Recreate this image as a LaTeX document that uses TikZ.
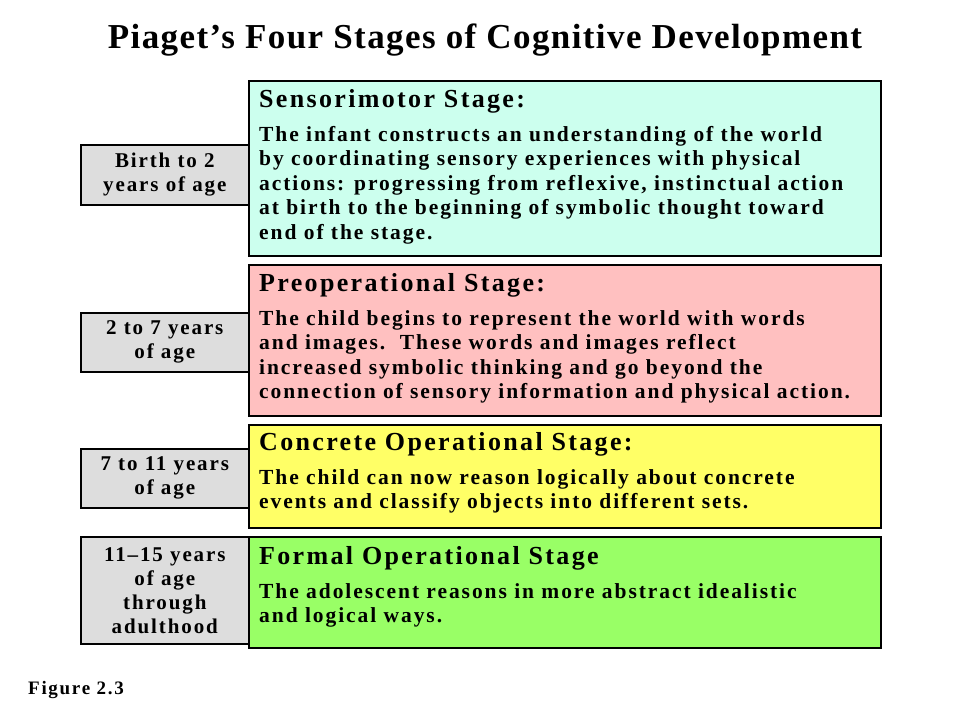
\documentclass[tikz,border=0pt]{standalone}
\usepackage{fontspec}
\setmainfont{Liberation Serif}
\newfontfamily\widefont[LetterSpace=9]{Liberation Serif}
\newfontfamily\midfont[LetterSpace=4]{Liberation Serif}
\definecolor{sensor}{HTML}{CCFFEE}
\definecolor{preop}{HTML}{FFC0C0}
\definecolor{concrete}{HTML}{FFFF66}
\definecolor{formal}{HTML}{99FF66}
\definecolor{agegray}{HTML}{DDDDDD}
\tikzset{
  agebox/.style={draw=black,line width=1.6pt,fill=agegray,anchor=north west,inner sep=0pt,
    minimum width=168pt,align=center,font=\widefont\fontsize{21}{24}\selectfont\bfseries},
  stagebox/.style={draw=black,line width=1.6pt,anchor=north west,inner sep=0pt,minimum width=632pt},
  stagetext/.style={anchor=north west,align=left,inner sep=0pt,font=\widefont\fontsize{21.5}{24.5}\selectfont\bfseries},
  stagehead/.style={anchor=north west,inner sep=0pt,font=\widefont\fontsize{26}{28}\selectfont\bfseries}
}
\begin{document}
\begin{tikzpicture}[x=1pt,y=-1pt]
\useasboundingbox (0,0) rectangle (960,720);
\node (title) at (485,40) {\midfont\fontsize{35}{38}\selectfont\bfseries Piaget’s Four Stages of Cognitive Development};
% ages
\node[agebox,minimum height=60pt] (a1) at (80,144) {Birth to 2\\years of age};
\node[agebox,minimum height=59pt] (a2) at (80,312) {2 to 7 years\\of age};
\node[agebox,minimum height=59pt] (a3) at (80,448) {7 to 11 years\\of age};
\node[agebox,minimum height=107pt] (a4) at (80,536) {11–15 years\\of age\\through\\adulthood};
% stages
\node[stagebox,fill=sensor,minimum height=175pt] (s1) at (248,80) {};
\node[stagebox,fill=preop,minimum height=151pt] (s2) at (248,264) {};
\node[stagebox,fill=concrete,minimum height=103pt] (s3) at (248,424) {};
\node[stagebox,fill=formal,minimum height=111pt] (s4) at (248,536) {};
\node[stagehead] (h1) at ([shift={(11,9)}]s1.north west) {Sensorimotor Stage:};
\node[stagetext] (t1) at ([shift={(11,46)}]s1.north west) {The infant constructs an understanding of the world\\by coordinating sensory experiences with physical\\actions: progressing from reflexive, instinctual action\\at birth to the beginning of symbolic thought toward\\end of the stage.};
\node[stagehead] (h2) at ([shift={(11,9)}]s2.north west) {Preoperational Stage:};
\node[stagetext] (t2) at ([shift={(11,46)}]s2.north west) {The child begins to represent the world with words\\and images.\ \ These words and images reflect\\increased symbolic thinking and go beyond the\\connection of sensory information and physical action.};
\node[stagehead] (h3) at ([shift={(11,8)}]s3.north west) {Concrete Operational Stage:};
\node[stagetext] (t3) at ([shift={(11,45)}]s3.north west) {The child can now reason logically about concrete\\events and classify objects into different sets.};
\node[stagehead] (h4) at ([shift={(11,10)}]s4.north west) {Formal Operational Stage};
\node[stagetext] (t4) at ([shift={(11,47)}]s4.north west) {The adolescent reasons in more abstract idealistic\\and logical ways.};
\node[anchor=west,inner sep=0pt] (fig) at (28,690) {\widefont\fontsize{19}{22}\selectfont\bfseries Figure 2.3};
\end{tikzpicture}
\end{document}
